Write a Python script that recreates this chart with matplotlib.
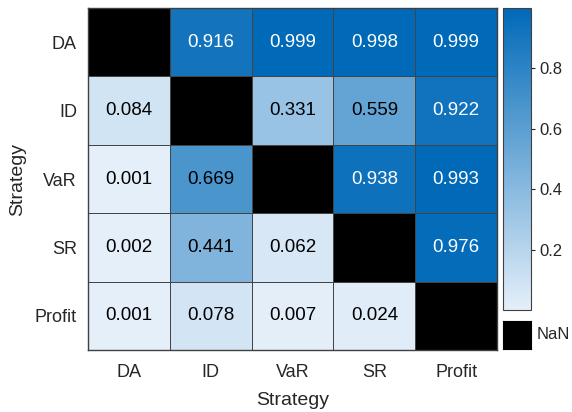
import numpy as np
import matplotlib.pyplot as plt
from matplotlib.colors import LinearSegmentedColormap
from matplotlib.patches import Rectangle

plt.rcParams['font.family'] = ['Liberation Sans', 'DejaVu Sans']

# data
strategies = ['DA', 'ID', 'VaR', 'SR', 'Profit']
vals = np.array([
    [np.nan, 0.916, 0.999, 0.998, 0.999],
    [0.084, np.nan, 0.331, 0.559, 0.922],
    [0.001, 0.669, np.nan, 0.938, 0.993],
    [0.002, 0.441, 0.062, np.nan, 0.976],
    [0.001, 0.078, 0.007, 0.024, np.nan],
])

cmap = LinearSegmentedColormap.from_list('blu', ['#e4eff9', '#0069b8'])
cmap.set_bad('black')
vmin, vmax = np.nanmin(vals), np.nanmax(vals)

fig = plt.figure(figsize=(5.72, 4.12), dpi=100)
ax = fig.add_axes([0.154, 0.150, 0.715, 0.831])
m = np.ma.masked_invalid(vals)
mesh = ax.pcolormesh(m, cmap=cmap, vmin=vmin, vmax=vmax,
                     edgecolor='#444444', linewidth=0.6)
ax.set_xlim(0, 5)
ax.set_ylim(5, 0)
for i in range(5):
    for j in range(5):
        v = vals[i, j]
        if np.isnan(v):
            continue
        c = 'white' if v > 0.7 else 'black'
        ax.text(j + 0.5, i + 0.5, f'{v:.3f}', ha='center', va='center',
                fontsize=13.5, color=c)
ax.set_xticks(np.arange(5) + 0.5)
ax.set_xticklabels(strategies)
ax.set_yticks(np.arange(5) + 0.5)
ax.set_yticklabels(strategies)
ax.tick_params(length=0, labelsize=13, colors='#262626')
ax.tick_params(axis='x', pad=10)
ax.tick_params(axis='y', pad=8)
ax.set_xlabel('Strategy', fontsize=14, color='#262626', labelpad=8)
ax.set_ylabel('Strategy', fontsize=14, color='#262626', labelpad=6)
for s in ax.spines.values():
    s.set_color('#404040')
    s.set_linewidth(1.0)

cax = fig.add_axes([0.879, 0.248, 0.049, 0.733])
cb = fig.colorbar(mesh, cax=cax)
cb.set_ticks([0.2, 0.4, 0.6, 0.8])
cb.ax.tick_params(labelsize=12, colors='#262626', length=3, width=0.8)
cb.outline.set_edgecolor('#404040')

nax = fig.add_axes([0.879, 0.153, 0.049, 0.068])
nax.add_patch(Rectangle((0, 0), 1, 1, color='black'))
nax.set_xlim(0, 1)
nax.set_ylim(0, 1)
nax.set_xticks([])
nax.set_yticks([])
nax.text(1.2, 0.5, 'NaN', ha='left', va='center', fontsize=12,
         color='#262626', transform=nax.transAxes)

fig.savefig('out.png', dpi=100)
